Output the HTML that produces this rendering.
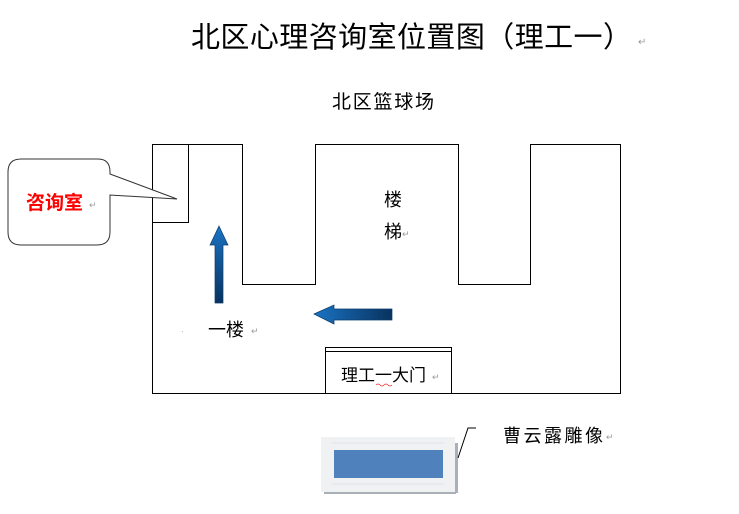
<!DOCTYPE html>
<html><head><meta charset="utf-8"><style>
html,body{margin:0;padding:0;background:#fff;width:739px;height:514px;overflow:hidden}
svg text{font-family:"Liberation Sans","Noto Sans CJK SC",sans-serif}
</style></head><body>
<svg width="739" height="514" xmlns="http://www.w3.org/2000/svg">
<defs>
<linearGradient id="gu" x1="0" y1="0" x2="0" y2="1"><stop offset="0" stop-color="#1a74c4"/><stop offset="1" stop-color="#08325e"/></linearGradient>
<linearGradient id="gl" x1="0" y1="0" x2="1" y2="0"><stop offset="0" stop-color="#1a74c4"/><stop offset="1" stop-color="#08325e"/></linearGradient>
</defs>
<text x="191" y="47" font-size="29" fill="#000" textLength="441">北区心理咨询室位置图（理工一）</text>
<text x="638" y="45" font-size="10" fill="#999">↵</text>
<text x="332" y="108" font-size="19" fill="#000" textLength="102">北区篮球场</text>
<path d="M152.5 144.5H242.5V284.5H315.5V144.5H458.5V284.5H530.5V144.5H620.5V393.5H152.5Z" fill="none" stroke="#000" stroke-width="1"/>
<rect x="152.5" y="144.5" width="36" height="78" fill="none" stroke="#000"/>
<path d="M20 159H98Q110 159 110 172V174L177 199L110 195V232Q110 245 97 245H21Q8 245 8 232V172Q8 159 21 159Z" fill="#fff" stroke="#333" stroke-width="1"/>
<text x="26" y="209" font-size="19" font-weight="bold" fill="#f00">咨询室</text>
<text x="89" y="208" font-size="9" fill="#999">↵</text>
<path d="M219 226L228 245H223V303H215V245H210Z" fill="url(#gu)" stroke="#0a3d6e" stroke-width="0.7"/>
<path d="M314 314L334 305V309H392V320H334V324Z" fill="url(#gl)" stroke="#0a3d6e" stroke-width="0.7"/>
<text x="384" y="206" font-size="18" fill="#000">楼</text>
<text x="384" y="238" font-size="18" fill="#000">梯</text>
<text x="402" y="237" font-size="9" fill="#999">↵</text>
<text x="208" y="336" font-size="18" fill="#000">一楼</text>
<text x="251" y="334" font-size="9" fill="#999">↵</text>
<text x="181" y="334" font-size="8" fill="#999">·</text>
<rect x="325.5" y="347.5" width="126" height="46" fill="#fff" stroke="#000"/>
<line x1="325.5" y1="351.5" x2="451.5" y2="351.5" stroke="#000"/>
<text x="341" y="381" font-size="17" fill="#000">理工一大门</text>
<path d="M376 385q2-2 4 0t4 0t4 0t4 0" fill="none" stroke="#e33" stroke-width="0.8"/>
<text x="432" y="380" font-size="9" fill="#999">↵</text>
<rect x="324" y="491" width="132" height="3" fill="#aab0b8"/>
<rect x="455" y="443" width="3" height="50" fill="#aab0b8"/>
<rect x="321" y="437" width="134" height="55" fill="#f0f1f2"/>
<line x1="332" y1="443" x2="444" y2="443" stroke="#dfe3e8"/>
<line x1="332" y1="484" x2="444" y2="484" stroke="#dfe3e8"/>
<rect x="334" y="450" width="109" height="28" fill="#4f81bd"/>
<path d="M458 458L468 428H476" fill="none" stroke="#000" stroke-width="1"/>
<text x="503" y="442" font-size="18" fill="#000" textLength="100">曹云露雕像</text>
<text x="606" y="440" font-size="9" fill="#999">↵</text>
</svg>
</body></html>
